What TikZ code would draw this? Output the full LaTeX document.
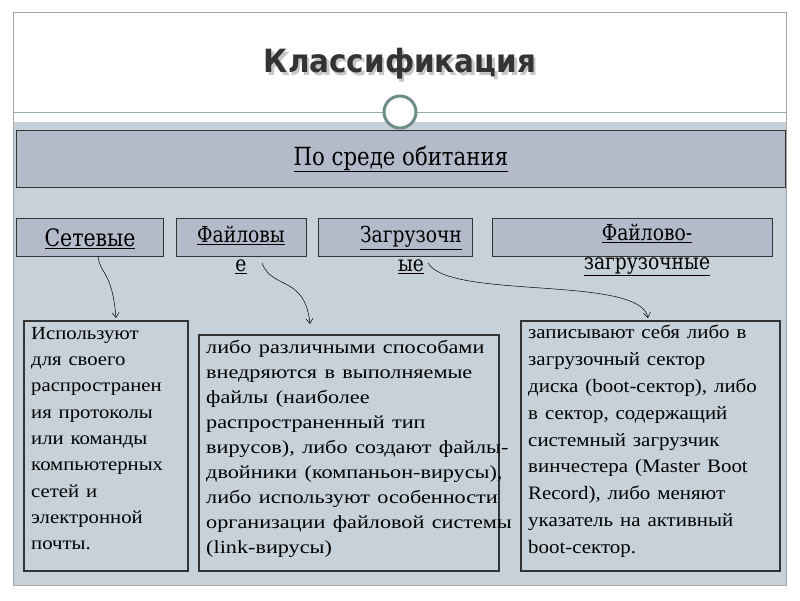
\documentclass[tikz,border=0pt]{standalone}
\usepackage{fontspec}
\setmainfont{Liberation Serif}
\newfontfamily\lab{DejaVu Serif}
\newfontfamily\ttl{DejaVu Sans}
\usetikzlibrary{arrows.meta}
\definecolor{bgc}{HTML}{C6D1D9}
\definecolor{boxc}{HTML}{B3BAC9}
\definecolor{ringc}{HTML}{6E8C8A}
\begin{document}
\begin{tikzpicture}[x=1pt,y=-1pt,
  hdr/.style={draw=black!80,fill=boxc,line width=0.8pt},
  frame/.style={draw=black!80,line width=1.5pt,anchor=north west,inner sep=0pt},
  txt/.style={align=left,inner sep=0pt,anchor=north west,text width=400},
  lbl/.style={font=\lab\fontsize{22}{29}\selectfont,align=center,xscale=0.85},
  arr/.style={-{Straight Barb[length=5pt,width=7pt]},line width=0.5pt}]
\useasboundingbox (0,0) rectangle (800,600);
\fill[white] (0,0) rectangle (800,600);
\fill[bgc] (13,122) rectangle (786,585);
\draw[gray!70] (13,12) rectangle (786,585);
\draw[ringc!70,line width=0.8pt] (13,112) -- (786,112);
\node[font=\ttl\bfseries\fontsize{32}{34}\selectfont,text=gray!45,xscale=0.92] at (402.5,66.5) {Классификация};
\node[font=\ttl\bfseries\fontsize{32}{34}\selectfont,text=black!80,xscale=0.92] (title) at (400,64) {Классификация};
\draw[ringc,line width=3pt,fill=white] (400,112) circle (16);
\node[hdr,minimum width=769,minimum height=57,anchor=north west] (main) at (16,130) {};
\node[lbl,font=\lab\fontsize{25}{28}\selectfont] at (main.center) {\underline{По среде обитания}};
\node[hdr,minimum width=147,minimum height=38,anchor=north west] (s) at (16,218) {};
\node[lbl,font=\lab\fontsize{24}{28}\selectfont] at (90,239) {\underline{Сетевые}};
\node[hdr,minimum width=130,minimum height=38,anchor=north west] (f) at (176,218) {};
\node[lbl] (ft) at (241,250) {\underline{Файловы}\\\underline{е}};
\node[hdr,minimum width=154,minimum height=38,anchor=north west] (z) at (318,218) {};
\node[lbl] (zt) at (411,250) {\underline{Загрузочн}\\\underline{ые}};
\node[hdr,minimum width=280,minimum height=38,anchor=north west] (fz) at (492,218) {};
\node[lbl] at (647,250) {\underline{Файлово-}\\\underline{загрузочные}};
\node[frame,minimum width=164,minimum height=250] (b1) at (23,320) {};
\node[txt,font=\fontsize{18.5}{26.3}\selectfont,xscale=1.12] at (31,327) {Используют\\для своего\\распространен\\ия протоколы\\или команды\\компьютерных\\сетей и\\электронной\\почты.};
\node[frame,minimum width=300,minimum height=236] (b2) at (198,334) {};
\node[txt,font=\fontsize{18.5}{25}\selectfont,xscale=1.2] at (206,340) {либо различными способами\\внедряются в выполняемые\\файлы (наиболее\\распространенный тип\\вирусов), либо создают файлы-\\двойники (компаньон-вирусы),\\либо используют особенности\\организации файловой системы\\(link-вирусы)};
\node[frame,minimum width=259,minimum height=250] (b3) at (520,320) {};
\node[txt,font=\fontsize{19}{26.8}\selectfont,xscale=1.1] at (528,325) {записывают себя либо в\\загрузочный сектор\\диска (boot-сектор), либо\\в сектор, содержащий\\системный загрузчик\\винчестера (Master Boot\\Record), либо меняют\\указатель на активный\\boot-сектор.};
\coordinate (a1) at (116,318);
\coordinate (a2) at (310,324);
\coordinate (a3) at (648,318);
\draw[arr] (98,256) .. controls (100,275) and (112,270) .. (a1);
\draw[arr] (262,263) .. controls (272,290) and (305,275) .. (a2);
\draw[arr] (428,263) .. controls (450,300) and (640,275) .. (a3);
\end{tikzpicture}
\end{document}
